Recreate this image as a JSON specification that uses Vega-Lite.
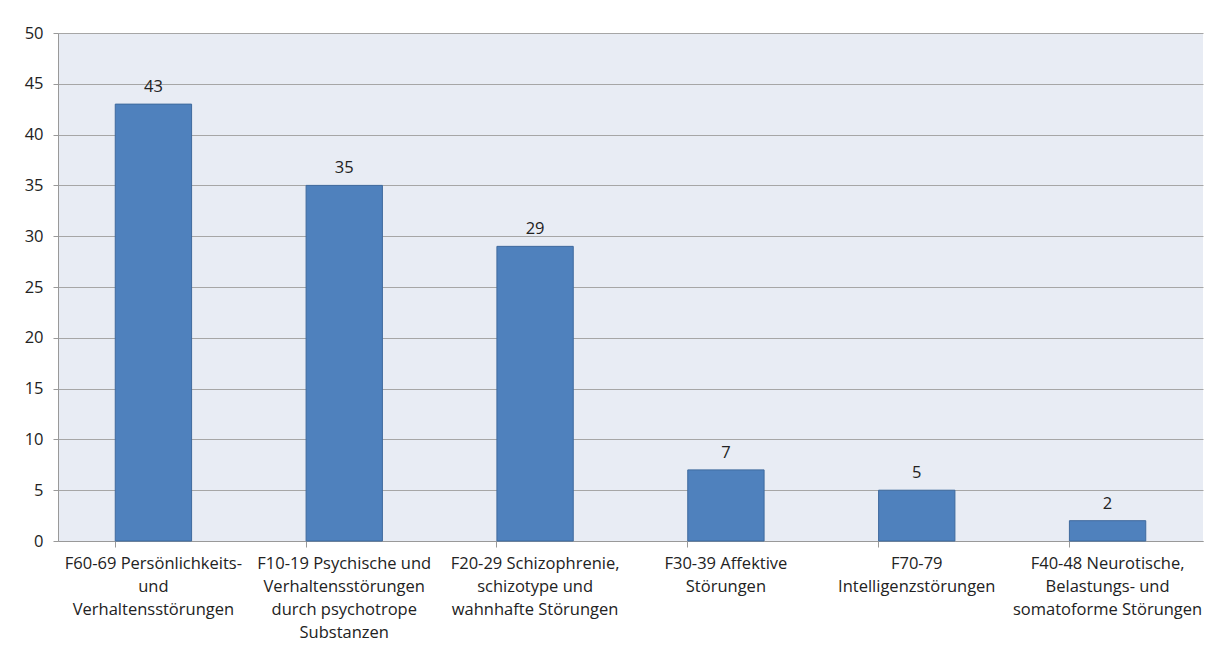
{
  "$schema": "https://vega.github.io/schema/vega-lite/v6.json",
  "autosize": "none",
  "width": 1145,
  "height": 508,
  "padding": {"left": 58, "top": 33, "right": 16, "bottom": 110},
  "background": "white",
  "config": {
    "font": "Open Sans",
    "view": {"fill": "#E8ECF4", "stroke": null}
  },
  "data": {
    "values": [
      {"cat": "F60-69 Persönlichkeits-|und|Verhaltensstörungen", "n": 43},
      {"cat": "F10-19 Psychische und|Verhaltensstörungen|durch psychotrope|Substanzen", "n": 35},
      {"cat": "F20-29 Schizophrenie,|schizotype und|wahnhafte Störungen", "n": 29},
      {"cat": "F30-39 Affektive|Störungen", "n": 7},
      {"cat": "F70-79|Intelligenzstörungen", "n": 5},
      {"cat": "F40-48 Neurotische,|Belastungs- und|somatoforme Störungen", "n": 2}
    ]
  },
  "encoding": {
    "x": {
      "field": "cat",
      "type": "nominal",
      "sort": null,
      "scale": {"paddingInner": 0.6, "paddingOuter": 0.3},
      "axis": {
        "title": null,
        "labelAngle": 0,
        "labelExpr": "split(datum.label, '|')",
        "labelFontSize": 16.5,
        "labelColor": "#222222",
        "labelLineHeight": 23,
        "labelPadding": 8,
        "labelBaseline": "top",
        "labelLimit": 300,
        "bandPosition": 0,
        "tickSize": 6,
        "tickColor": "#999999",
        "domainColor": "#999999",
        "grid": false
      }
    },
    "y": {
      "field": "n",
      "type": "quantitative",
      "scale": {"domain": [0, 50]},
      "axis": {
        "title": null,
        "values": [0, 5, 10, 15, 20, 25, 30, 35, 40, 45, 50],
        "labelFontSize": 16.5,
        "labelColor": "#222222",
        "labelPadding": 10,
        "tickSize": 5,
        "tickColor": "#999999",
        "domainColor": "#999999",
        "gridColor": "#A6A6A6",
        "gridOpacity": 1
      }
    }
  },
  "layer": [
    {
      "mark": {"type": "bar", "color": "#4F81BD", "stroke": "#3F6A9E", "strokeWidth": 1}
    },
    {
      "mark": {"type": "text", "baseline": "bottom", "dy": -9, "fontSize": 16.5, "color": "#222222"},
      "encoding": {"text": {"field": "n", "type": "quantitative"}}
    }
  ]
}
